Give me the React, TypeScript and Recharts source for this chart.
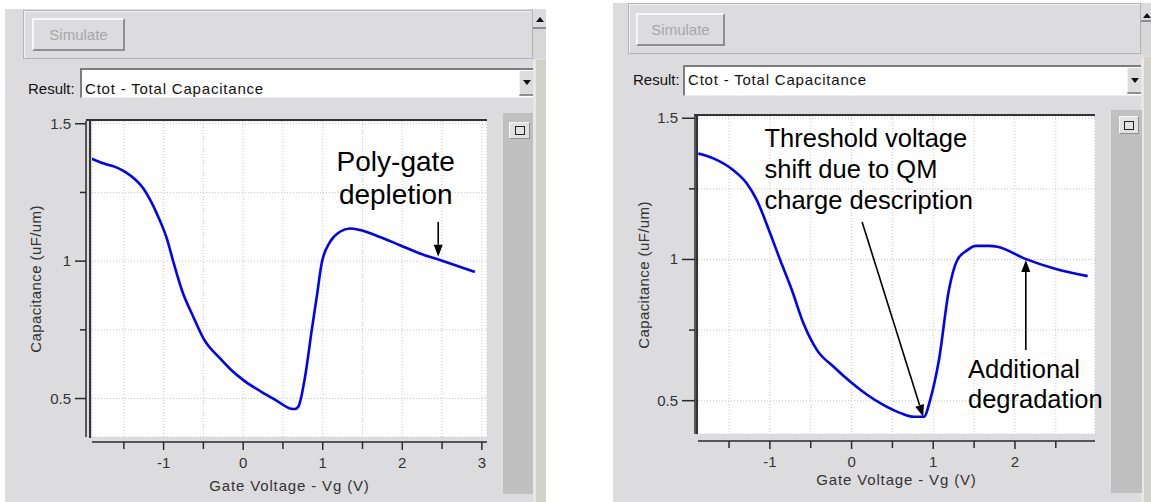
import React from 'react';
import { LineChart, Line, XAxis, YAxis, CartesianGrid, ReferenceLine, ReferenceDot } from 'recharts';

// ---------- data ----------
const leftVg = [-1.902, -1.75, -1.609, -1.484, -1.254, -1.085, -0.96, -0.877, -0.771, -0.626, -0.5, -0.29, -0.15, 0.003, 0.296, 0.45, 0.589, 0.652, 0.693, 0.778, 0.862, 0.925, 0.987, 1.092, 1.217, 1.343, 1.469, 1.72, 1.971, 2.222, 2.474, 2.913];
const leftC = [1.373, 1.355, 1.343, 1.325, 1.264, 1.173, 1.083, 0.997, 0.895, 0.797, 0.719, 0.646, 0.604, 0.567, 0.513, 0.487, 0.464, 0.462, 0.47, 0.579, 0.749, 0.87, 0.992, 1.07, 1.107, 1.119, 1.113, 1.088, 1.058, 1.028, 1.004, 0.961];

const rightVg = [-1.876, -1.692, -1.447, -1.282, -1.16, -0.996, -0.874, -0.73, -0.588, -0.423, -0.22, -0.015, 0.19, 0.394, 0.599, 0.762, 0.885, 0.967, 1.069, 1.191, 1.294, 1.417, 1.519, 1.682, 1.785, 2.112, 2.48, 2.89];
const rightC = [1.375, 1.358, 1.316, 1.269, 1.21, 1.092, 0.998, 0.891, 0.773, 0.679, 0.62, 0.567, 0.521, 0.484, 0.456, 0.443, 0.443, 0.508, 0.643, 0.891, 0.998, 1.033, 1.048, 1.048, 1.045, 1.004, 0.968, 0.941];

const leftXTicks = [-1.5, -1, -0.5, 0, 0.5, 1, 1.5, 2, 2.5, 3];
const rightXTicks = [-1.5, -1, -0.5, 0, 0.5, 1, 1.5, 2, 2.5];
const yTicks = [0.5, 0.75, 1, 1.25, 1.5];
const xLabelTicks = [-1, 0, 1, 2, 3];
const yLabelTicks = [0.5, 1, 1.5];

const xTitle = 'Gate Voltage - Vg (V)';
const yTitle = 'Capacitance (uF/um)';
const buttonText = 'Simulate';
const resultLabel = 'Result:';
const resultText = 'Ctot - Total Capacitance';

const leftNote = ['Poly-gate', 'depletion'];
const leftNoteAt = [1.918, 1.366];
const leftArrow = [[2.452, 1.143], [2.452, 1.016]];

const rightNote1 = ['Threshold voltage', 'shift due to QM', 'charge description'];
const rightNote1At = [-1.066, 1.431];
const rightArrow1 = [[0.129, 1.133], [0.877, 0.443]];
const rightNote2 = ['Additional', 'degradation'];
const rightNote2At = [1.425, 0.614];
const rightArrow2 = [[2.133, 0.679], [2.133, 0.998]];

const leftData = leftVg.map((v, i) => ({ v, c: leftC[i] }));
const rightData = rightVg.map((v, i) => ({ v, c: rightC[i] }));

// ---------- styles ----------
const FONT = '"Liberation Sans", Arial, Helvetica, sans-serif';
const GRAY = '#dcdbde';
const TXT = '#333333';

const fmt = (v: number) => String(v);

const makeXTick = (gap: number) => (props: any) => {
  const { x, y, payload } = props;
  const v = payload.value;
  const major = xLabelTicks.includes(v);
  return (
    <g>
      <line x1={x} x2={x} y1={y + gap} y2={y + gap + (major ? 8 : 7)} stroke="#2a2a2a" strokeWidth={1.5} />
      {major && (
        <text x={x} y={y + gap + 26} textAnchor="middle" fontSize={15} fontFamily={FONT} fill={TXT}>
          {fmt(v)}
        </text>
      )}
    </g>
  );
};

const makeYTick = (gap: number, len: number) => (props: any) => {
  const { x, y, payload } = props;
  const v = payload.value;
  const major = yLabelTicks.includes(v);
  return (
    <g>
      <line x1={x - gap} x2={x - gap - (major ? len : 6)} y1={y} y2={y} stroke="#2a2a2a" strokeWidth={1.5} />
      {major && (
        <text x={x - gap - len - 4} y={y + 5} textAnchor="end" fontSize={15} fontFamily={FONT} fill={TXT}>
          {fmt(v)}
        </text>
      )}
    </g>
  );
};

const arrowShape = (p: any) => {
  const { x1, y1, x2, y2 } = p;
  const dx = x2 - x1;
  const dy = y2 - y1;
  const L = Math.sqrt(dx * dx + dy * dy) || 1;
  const ux = dx / L;
  const uy = dy / L;
  const hl = 12;
  const hw = 4.5;
  const bx = x2 - ux * hl;
  const by = y2 - uy * hl;
  return (
    <g>
      <line x1={x1} y1={y1} x2={bx} y2={by} stroke="#000" strokeWidth={1.6} />
      <polygon
        points={`${x2},${y2} ${bx - uy * hw},${by + ux * hw} ${bx + uy * hw},${by - ux * hw}`}
        fill="#000"
      />
    </g>
  );
};

const noteShape = (lines: string[], anchor: string, size: number, gap: number) => (p: any) => (
  <text x={p.cx} y={p.cy} textAnchor={anchor as any} fontSize={size} fontFamily={FONT} fill="#000">
    {lines.map((t, i) => (
      <tspan key={i} x={p.cx} dy={i === 0 ? size * 0.358 : gap}>
        {t}
      </tspan>
    ))}
  </text>
);

type ChartCfg = {
  left: number;
  top: number;
  width: number;
  height: number;
  margin: { top: number; right: number; bottom: number; left: number };
  yW: number;
  xH: number;
  xDomain: [number, number];
  yDomain: [number, number];
  xTicks: number[];
  data: { v: number; c: number }[];
  xGap: number;
  yGap: number;
  yLen: number;
  xTitleDy: number;
  yTitleDx: number;
  children?: React.ReactNode;
};

function Plot(cfg: ChartCfg) {
  return (
    <div style={{ position: 'absolute', left: cfg.left, top: cfg.top }}>
      <LineChart width={cfg.width} height={cfg.height} data={cfg.data} margin={cfg.margin}>
        <CartesianGrid fill="#ffffff" stroke="#c9c9c9" strokeDasharray="1 2" />
        <XAxis
          type="number"
          dataKey="v"
          domain={cfg.xDomain}
          ticks={cfg.xTicks}
          interval={0}
          allowDataOverflow
          height={cfg.xH}
          tickSize={0}
          tickMargin={0}
          tickLine={false}
          axisLine={{ stroke: '#2a2a2a', strokeWidth: 1.5, transform: `translate(0,${cfg.xGap})` } as any}
          tick={makeXTick(cfg.xGap)}
          label={(p: any) => {
            const vb = p.viewBox;
            return (
              <text x={vb.x + vb.width / 2} y={vb.y + cfg.xTitleDy} textAnchor="middle" fontSize={15} letterSpacing={0.85} fontFamily={FONT} fill={TXT}>
                {xTitle}
              </text>
            );
          }}
        />
        <YAxis
          type="number"
          domain={cfg.yDomain}
          ticks={yTicks}
          interval={0}
          allowDataOverflow
          width={cfg.yW}
          tickSize={0}
          tickMargin={0}
          tickLine={false}
          axisLine={{ stroke: '#2a2a2a', strokeWidth: 1.5, transform: `translate(${-cfg.yGap},0)` } as any}
          tick={makeYTick(cfg.yGap, cfg.yLen)}
          label={(p: any) => {
            const vb = p.viewBox;
            const cx = vb.x + vb.width + cfg.yTitleDx;
            const cy = vb.y + vb.height / 2;
            return (
              <text x={cx} y={cy} transform={`rotate(-90 ${cx} ${cy})`} textAnchor="middle" dominantBaseline="central" fontSize={15} letterSpacing={0.4} fontFamily={FONT} fill={TXT}>
                {yTitle}
              </text>
            );
          }}
        />
        <Line type="monotone" dataKey="c" stroke="#0000ff" strokeWidth={2.6} dot={false} isAnimationActive={false} />
        {cfg.children}
      </LineChart>
    </div>
  );
}

const abs = (l: number, t: number, w: number, h: number, extra: React.CSSProperties = {}): React.CSSProperties => ({
  position: 'absolute',
  left: l,
  top: t,
  width: w,
  height: h,
  boxSizing: 'border-box',
  ...extra,
});

function Chrome(g: {
  panel: number[];
  group: number[];
  btn: number[];
  result: number[];
  combo: number[];
  scroll: number[];
  side: number[];
  sq: number[];
}) {
  const [pl, pt, pw] = g.panel;
  const [sx, sw, aTop, aH, stEnd] = g.scroll;
  return (
    <>
      <div style={abs(pl, pt, pw, 502 - pt, { background: GRAY })} />
      <div style={abs(g.group[0], g.group[1], g.group[2], g.group[3], { border: '1px solid #b4b3b6', boxShadow: 'inset 1px 1px 0 #f2f2f2' })} />
      <div
        style={abs(g.btn[0], g.btn[1], g.btn[2], g.btn[3], {
          borderTop: '2px solid #f6f6f6',
          borderLeft: '2px solid #f6f6f6',
          borderRight: '2px solid #8e8e8e',
          borderBottom: '2px solid #8e8e8e',
          color: '#a7a7a7',
          font: `15px ${FONT}`,
          display: 'flex',
          alignItems: 'center',
          justifyContent: 'center',
        })}
      >
        {buttonText}
      </div>
      <div style={{ position: 'absolute', left: g.result[0], top: g.result[1], font: `15px ${FONT}`, lineHeight: '17px', color: '#111' }}>
        {resultLabel}
      </div>
      <div
        style={abs(g.combo[0], g.combo[1], g.combo[2], g.combo[3], {
          background: '#ffffff',
          borderTop: '2px solid #7d7d7d',
          borderLeft: '2px solid #7d7d7d',
          borderBottom: '1px solid #eeeeee',
        })}
      />
      <div style={{ position: 'absolute', left: g.combo[0] + 5, top: g.result[1], font: `15px ${FONT}`, lineHeight: '17px', letterSpacing: '0.8px', color: '#111', whiteSpace: 'nowrap' }}>
        {resultText}
      </div>
      <div
        style={abs(g.combo[0] + g.combo[2] - 14, g.combo[1] + 3, 14, g.combo[3] - 5, {
          background: GRAY,
          borderBottom: '2px solid #8e8e8e',
          borderLeft: '1px solid #f2f2f2',
          display: 'flex',
          alignItems: 'center',
          justifyContent: 'center',
        })}
      >
        <div style={{ width: 0, height: 0, borderLeft: '4px solid transparent', borderRight: '4px solid transparent', borderTop: '5px solid #111' }} />
      </div>
      {/* scrollbar */}
      <div style={abs(sx, aTop, sw, aH, { background: GRAY, borderBottom: '2px solid #8e8e8e', display: 'flex', alignItems: 'center', justifyContent: 'center' })}>
        <div style={{ width: 0, height: 0, borderLeft: '4px solid transparent', borderRight: '4px solid transparent', borderBottom: '5px solid #111' }} />
      </div>
      <div
        style={abs(sx, aTop + aH, sw, stEnd - aTop - aH, {
          backgroundColor: '#e4e4e4',
          backgroundImage: 'radial-gradient(#c8c8c8 0.6px, transparent 0.8px)',
          backgroundSize: '2px 2px',
        })}
      />
      <div style={abs(sx, stEnd + 2, sw, 502 - stEnd - 2, { background: '#d4d1cb', borderLeft: '3px solid #e8e8e8' })} />
      {/* side bar */}
      <div style={abs(g.side[0], g.side[1], g.side[2], g.side[3], { background: '#c0c0c0' })} />
      <div
        style={abs(g.sq[0], g.sq[1], g.sq[2], g.sq[3], {
          background: '#e2e2e2',
          borderTop: '1px solid #f6f6f6',
          borderLeft: '1px solid #f6f6f6',
          borderRight: '1px solid #8e8e8e',
          borderBottom: '1px solid #8e8e8e',
          display: 'flex',
          alignItems: 'center',
          justifyContent: 'center',
        })}
      >
        <div style={{ width: 10, height: 9, border: '1.5px solid #222', boxSizing: 'border-box' }} />
      </div>
    </>
  );
}

export default function App() {
  return (
    <div style={{ position: 'absolute', left: 0, top: 0, width: 1151, height: 502, background: '#ffffff', overflow: 'hidden' }}>
      {/* ===== left panel ===== */}
      <Chrome
        panel={[5, 9, 541]}
        group={[23, 10, 510, 49]}
        btn={[32, 18, 93, 33]}
        result={[28, 80]}
        combo={[80, 68, 453, 30]}
        scroll={[533, 13, 12, 17, 58]}
        side={[503, 113, 30, 381]}
        sq={[509, 122, 21, 17]}
      />
      <Plot
        left={0}
        top={100}
        width={546}
        height={402}
        margin={{ top: 21, right: 59, bottom: 0, left: 0 }}
        yW={92}
        xH={65}
        xDomain={[-1.9, 3.065]}
        yDomain={[0.36, 1.51]}
        xTicks={leftXTicks}
        data={leftData}
        xGap={5}
        yGap={6}
        yLen={11}
        xTitleDy={54}
        yTitleDx={-57}
      >
        <ReferenceLine
          segment={[{ x: leftArrow[0][0], y: leftArrow[0][1] }, { x: leftArrow[1][0], y: leftArrow[1][1] }]}
          ifOverflow="visible"
          shape={arrowShape}
        />
        <ReferenceDot x={leftNoteAt[0]} y={leftNoteAt[1]} r={1} ifOverflow="visible" shape={noteShape(leftNote, 'middle', 28, 33.5)} />
      </Plot>
      {/* sunken plot border left */}
      <div style={abs(86, 119, 401, 2, { background: '#333' })} />
      <div style={abs(89, 119, 2, 319, { background: '#333' })} />

      {/* ===== right panel ===== */}
      <Chrome
        panel={[613, 3, 538]}
        group={[628, 3, 513, 51]}
        btn={[636, 13, 89, 33]}
        result={[633, 71]}
        combo={[683, 65, 458, 31]}
        scroll={[1141, 12, 10, 12, 55]}
        side={[1111, 110, 31, 383]}
        sq={[1119, 116, 20, 18]}
      />
      <Plot
        left={613}
        top={100}
        width={538}
        height={402}
        margin={{ top: 16, right: 56, bottom: 0, left: 0 }}
        yW={85}
        xH={68}
        xDomain={[-1.88, 2.98]}
        yDomain={[0.382, 1.508]}
        xTicks={rightXTicks}
        data={rightData}
        xGap={7}
        yGap={3}
        yLen={13}
        xTitleDy={51}
        yTitleDx={-55}
      >
        <ReferenceLine
          segment={[{ x: rightArrow1[0][0], y: rightArrow1[0][1] }, { x: rightArrow1[1][0], y: rightArrow1[1][1] }]}
          ifOverflow="visible"
          shape={arrowShape}
        />
        <ReferenceLine
          segment={[{ x: rightArrow2[0][0], y: rightArrow2[0][1] }, { x: rightArrow2[1][0], y: rightArrow2[1][1] }]}
          ifOverflow="visible"
          shape={arrowShape}
        />
        <ReferenceDot x={rightNote1At[0]} y={rightNote1At[1]} r={1} ifOverflow="visible" shape={noteShape(rightNote1, 'start', 25.5, 31)} />
        <ReferenceDot x={rightNote2At[0]} y={rightNote2At[1]} r={1} ifOverflow="visible" shape={noteShape(rightNote2, 'start', 25.5, 30.7)} />
      </Plot>
      <div style={abs(694, 114, 401, 2, { background: '#333' })} />
      <div style={abs(696, 114, 2, 320, { background: '#333' })} />
    </div>
  );
}
